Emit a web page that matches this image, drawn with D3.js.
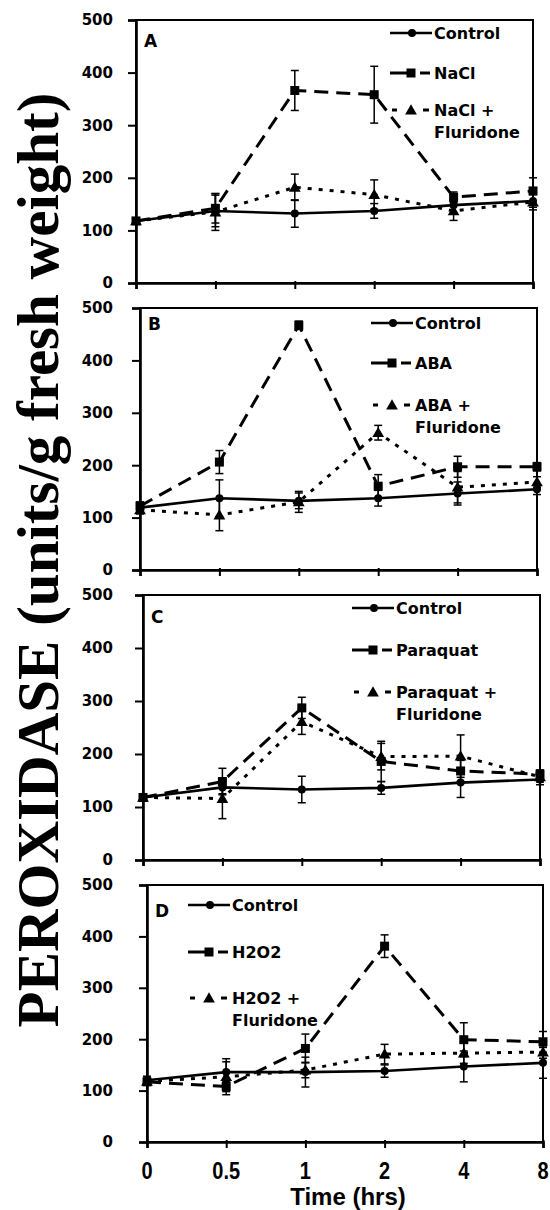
<!DOCTYPE html>
<html>
<head>
<meta charset="utf-8">
<script src="https://cdn.jsdelivr.net/npm/d3@7/dist/d3.min.js"></script>
<style>
  html, body { margin: 0; padding: 0; background: #fff; }
  svg { display: block; }
</style>
</head>
<body>
<svg id="chart" width="550" height="1210"></svg>
<script>
// Sampling times (hrs), shown as evenly spaced categories
const times = ["0", "0.5", "1", "2", "4", "8"];
const yTicks = [0, 100, 200, 300, 400, 500];
const panelLetters = ["A", "B", "C", "D"];
const treatmentNames = ["NaCl", "ABA", "Paraquat", "H2O2"];

// Peroxidase activity (units/g fresh weight) and error bars
const controlA = [118, 137, 132, 137, 148, 156];
const controlErrA = [5, 30, 26, 14, 15, 12];
const naclA = [118, 142, 366, 358, 163, 175];
const naclErrA = [5, 28, 38, 54, 10, 25];
const naclFluA = [118, 135, 182, 168, 137, 154];
const naclFluErrA = [5, 35, 25, 28, 18, 15];

const controlB = [119, 137, 132, 137, 146, 154];
const controlErrB = [8, 35, 15, 15, 22, 10];
const abaB = [122, 206, 467, 160, 197, 197];
const abaErrB = [8, 22, 8, 22, 20, 8];
const abaFluB = [115, 105, 130, 262, 158, 168];
const abaFluErrB = [8, 30, 20, 14, 30, 10];

const controlC = [118, 137, 133, 136, 146, 152];
const controlErrC = [6, 12, 25, 12, 28, 10];
const paraquatC = [118, 148, 287, 186, 168, 162];
const paraquatErrC = [6, 25, 20, 38, 20, 8];
const paraquatFluC = [118, 116, 261, 195, 196, 157];
const paraquatFluErrC = [6, 38, 24, 25, 40, 10];

const controlD = [120, 136, 136, 138, 147, 154];
const controlErrD = [8, 20, 29, 12, 30, 30];
const h2o2D = [117, 108, 182, 381, 199, 195];
const h2o2ErrD = [6, 10, 28, 22, 33, 20];
const h2o2FluD = [118, 127, 140, 171, 173, 175];
const h2o2FluErrD = [6, 35, 15, 19, 20, 12];

const panelData = [
  { control: [controlA, controlErrA], treat: [naclA, naclErrA], flu: [naclFluA, naclFluErrA] },
  { control: [controlB, controlErrB], treat: [abaB, abaErrB], flu: [abaFluB, abaFluErrB] },
  { control: [controlC, controlErrC], treat: [paraquatC, paraquatErrC], flu: [paraquatFluC, paraquatFluErrC] },
  { control: [controlD, controlErrD], treat: [h2o2D, h2o2ErrD], flu: [h2o2FluD, h2o2FluErrD] }
];

// Panel geometry
const layout = [
  { left: 136, right: 533, top: 20,  bottom: 283,  letterDy: 27, legX: 390, legRows: [13, 53, 90] },
  { left: 140, right: 537, top: 308, bottom: 570,  letterDy: 22, legX: 371, legRows: [15, 55, 97] },
  { left: 143, right: 540, top: 595, bottom: 860,  letterDy: 28, legX: 352, legRows: [13, 55, 97] },
  { left: 147, right: 543, top: 885, bottom: 1142, letterDy: 32, legX: 188, legRows: [20, 67, 113] }
];

const tickLabelRight = 113;
const sansBold = "'DejaVu Sans', sans-serif";

const svg = d3.select("#chart");

const styles = {
  control: { dash: null, width: 2.6 },
  treat: { dash: "14,8", width: 3 },
  flu: { dash: "4,7", width: 3 }
};

function drawMarker(g, kind, cx, cy) {
  if (kind === "control") {
    g.append("circle").attr("cx", cx).attr("cy", cy).attr("r", 4).attr("fill", "#000");
  } else if (kind === "treat") {
    g.append("rect").attr("x", cx - 4.5).attr("y", cy - 4.5).attr("width", 9).attr("height", 9).attr("fill", "#000");
  } else {
    g.append("path").attr("d", d3.symbol(d3.symbolTriangle, 60)())
      .attr("transform", `translate(${cx},${cy + 1})`).attr("fill", "#000");
  }
}

function boldText(sel, size, family) {
  return sel.style("font-family", family || sansBold)
    .style("font-weight", "bold")
    .style("font-size", size + "px")
    .attr("fill", "#000");
}

panelData.forEach((pd, i) => {
  const L = layout[i];
  const x = d3.scalePoint().domain(times).range([L.left, L.right]).padding(0);
  const y = d3.scaleLinear().domain([0, 500]).range([L.bottom, L.top]);
  const g = svg.append("g");

  // frame
  g.append("rect").attr("x", L.left).attr("y", L.top)
    .attr("width", L.right - L.left).attr("height", L.bottom - L.top)
    .attr("fill", "none").attr("stroke", "#000").attr("stroke-width", 2);

  // y axis
  const yAxis = d3.axisLeft(y).tickValues(yTicks).tickSize(8)
    .tickPadding(L.left - tickLabelRight - 8).tickFormat(d3.format("d"));
  const ya = g.append("g").attr("transform", `translate(${L.left},0)`).call(yAxis);
  ya.select(".domain").attr("stroke-width", 2.6);
  ya.selectAll(".tick line").attr("stroke-width", 2);
  boldText(ya.selectAll(".tick text"), 15);

  // x axis
  const xAxis = d3.axisBottom(x).tickSize(6).tickFormat("");
  const xa = g.append("g").attr("transform", `translate(0,${L.bottom})`).call(xAxis);
  xa.select(".domain").attr("stroke-width", 2.6);
  xa.selectAll(".tick line").attr("stroke-width", 2).attr("y1", -2);

  // series
  ["control", "treat", "flu"].forEach(kind => {
    const [vals, errs] = pd[kind];
    const pts = times.map((t, k) => ({ t, v: vals[k], e: errs[k] }));
    const st = styles[kind];
    const line = d3.line().x(d => x(d.t)).y(d => y(d.v));
    g.append("path").datum(pts).attr("d", line).attr("fill", "none")
      .attr("stroke", "#000").attr("stroke-width", st.width)
      .attr("stroke-dasharray", st.dash);
    // error bars
    const eb = g.append("g").attr("stroke", "#000").attr("stroke-width", 1.5);
    pts.forEach(d => {
      const cx = x(d.t);
      eb.append("line").attr("x1", cx).attr("x2", cx).attr("y1", y(d.v - d.e)).attr("y2", y(d.v + d.e));
      eb.append("line").attr("x1", cx - 4).attr("x2", cx + 4).attr("y1", y(d.v + d.e)).attr("y2", y(d.v + d.e));
      eb.append("line").attr("x1", cx - 4).attr("x2", cx + 4).attr("y1", y(d.v - d.e)).attr("y2", y(d.v - d.e));
    });
    pts.forEach(d => drawMarker(g, kind, x(d.t), y(d.v)));
  });

  // panel letter
  boldText(g.append("text").attr("x", L.left + 8).attr("y", L.top + L.letterDy), 17)
    .text(panelLetters[i]);

  // legend
  const lx = L.legX;
  const labels = ["Control", treatmentNames[i], treatmentNames[i] + " +"];
  const lg = g.append("g");
  L.legRows.forEach((ry, k) => {
    const cy = L.top + ry;
    if (k === 0) {
      lg.append("line").attr("x1", lx).attr("x2", lx + 42).attr("y1", cy).attr("y2", cy)
        .attr("stroke", "#000").attr("stroke-width", 2.6);
      drawMarker(lg, "control", lx + 22, cy);
    } else if (k === 1) {
      lg.append("line").attr("x1", lx).attr("x2", lx + 20).attr("y1", cy).attr("y2", cy)
        .attr("stroke", "#000").attr("stroke-width", 3);
      lg.append("line").attr("x1", lx + 30).attr("x2", lx + 40).attr("y1", cy).attr("y2", cy)
        .attr("stroke", "#000").attr("stroke-width", 3);
      drawMarker(lg, "treat", lx + 21, cy);
    } else {
      lg.append("line").attr("x1", lx + 2).attr("x2", lx + 7).attr("y1", cy).attr("y2", cy)
        .attr("stroke", "#000").attr("stroke-width", 3);
      lg.append("line").attr("x1", lx + 33).attr("x2", lx + 39).attr("y1", cy).attr("y2", cy)
        .attr("stroke", "#000").attr("stroke-width", 3);
      drawMarker(lg, "flu", lx + 21, cy);
    }
    boldText(lg.append("text").attr("x", lx + 44).attr("y", cy + 6), 16).text(labels[k]);
    if (k === 2) {
      boldText(lg.append("text").attr("x", lx + 44).attr("y", cy + 28), 16).text("Fluridone");
    }
  });

  // x tick labels on the bottom panel only
  if (i === panelData.length - 1) {
    times.forEach(t => {
      boldText(g.append("text")
        .attr("transform", `translate(${x(t)},${L.bottom + 37}) scale(1,1.22)`)
        .attr("text-anchor", "middle"), 20, "'Liberation Sans', Arial, sans-serif")
        .text(t);
    });
  }
});

// axis titles
boldText(svg.append("text")
  .attr("x", 348).attr("y", 1205).attr("text-anchor", "middle"), 24, "'Liberation Sans', Arial, sans-serif")
  .text("Time (hrs)");

boldText(svg.append("text")
  .attr("transform", "translate(58,560) rotate(-90)")
  .attr("text-anchor", "middle"), 59, "'Liberation Serif', 'Times New Roman', serif")
  .text("PEROXIDASE (units/g fresh weight)");
</script>
</body>
</html>
